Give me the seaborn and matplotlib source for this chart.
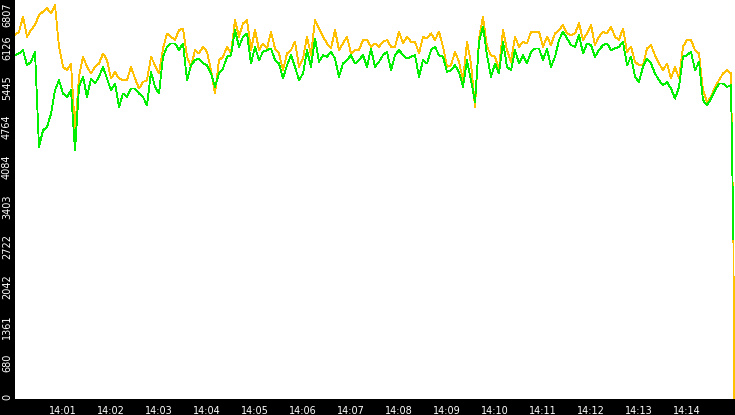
import numpy as np
import pandas as pd
import matplotlib
matplotlib.use("Agg")
import matplotlib.pyplot as plt
import matplotlib.dates as mdates
import matplotlib.transforms as mtransforms
import seaborn as sns

# =============================
# DATA (one sample every 5 s from 14:00:00)
# =============================
START = "2024-01-01 14:00:00"
STEP = "5s"

orange_vals = [
    6208, 6265, 6522, 6180, 6294, 6379, 6551, 6607, 6664, 6579, 6721, 6009, 5667, 5610, 5724, 4584,
    5496, 5838, 5667, 5553, 5667, 5724, 5895, 5781, 5467, 5581, 5467, 5439, 5439, 5667, 5467, 5296,
    5410, 5439, 5838, 5695, 5553, 5980, 6237, 6180, 6123, 6294, 6322, 5838, 5667, 5952, 5895, 6009,
    5923, 5610, 5211, 5781, 5838, 6009, 5895, 6465, 6180, 6408, 6465, 5952, 6294, 5952, 6066, 5980,
    6265, 5980, 5895, 5610, 5895, 5952, 6094, 5667, 5809, 6180, 5866, 6465, 6322, 6180, 6066, 5980,
    6294, 5952, 6066, 6180, 5895, 5952, 5952, 6123, 6123, 6009, 6066, 6009, 6094, 6123, 6009, 6009,
    6265, 6066, 6180, 6094, 6094, 5895, 6180, 6151, 6237, 6123, 6265, 6009, 5667, 5695, 5923, 5752,
    5439, 6094, 5724, 4983, 6151, 6522, 6009, 5866, 5838, 5638, 6294, 5952, 5752, 6180, 6009, 6094,
    6066, 6265, 6265, 6265, 6009, 6180, 6037, 6237, 6294, 6379, 6237, 6208, 6237, 6408, 6123, 6237,
    6379, 6037, 6180, 6265, 6237, 6351, 6180, 6123, 6322, 5923, 6009, 5752, 5695, 5695, 5980, 6037,
    5866, 5724, 5610, 5724, 5467, 5667, 5467, 6009, 6123, 6123, 5952, 5895, 5268, 5068, 5154, 5325,
    5439, 5553, 5610, 5553,
]
green_vals = [
    5866, 5895, 5952, 5695, 5752, 5923, 4299, 4584, 4641, 4869, 5268, 5439, 5211, 5154, 5268, 4242,
    5325, 5496, 5154, 5467, 5382, 5496, 5667, 5467, 5268, 5382, 4983, 5211, 5154, 5296, 5296, 5211,
    5154, 5011, 5581, 5325, 5211, 5838, 6009, 6066, 6066, 5952, 6066, 5439, 5695, 5781, 5809, 5724,
    5695, 5553, 5325, 5553, 5638, 5838, 5866, 6294, 6009, 6180, 6237, 5724, 6009, 5781, 5923, 5952,
    5980, 5781, 5724, 5467, 5695, 5866, 5667, 5439, 5553, 5952, 5667, 6151, 5752, 5866, 5838, 5923,
    5809, 5496, 5724, 5781, 5866, 5724, 5781, 5866, 5667, 5980, 5667, 5752, 5866, 5923, 5610, 5866,
    5952, 5866, 5809, 5838, 5866, 5496, 5781, 5724, 5952, 6009, 5866, 5838, 5581, 5610, 5695, 5581,
    5325, 5781, 5439, 5068, 6094, 6351, 5866, 5496, 5724, 5553, 6094, 5667, 5610, 5952, 5724, 5866,
    5724, 5923, 5980, 5980, 5781, 5980, 5667, 5838, 6123, 6265, 6151, 6037, 6009, 6208, 5895, 6066,
    6037, 5838, 5952, 6037, 6066, 5952, 5980, 6009, 6094, 5695, 5838, 5496, 5410, 5667, 5809, 5724,
    5553, 5439, 5353, 5410, 5296, 5125, 5325, 5838, 5866, 5923, 5610, 5752, 5097, 5011, 5125, 5268,
    5382, 5382, 5325, 5353,
]
# the last second of the window: both series fall away
tail_seconds_orange = [898, 899]
tail_orange = [2730, 0]
tail_seconds_green = [898]
tail_green = [2730]

Y_MAX = 6807
tick_minutes = list(range(1, 15))

ORANGE = "#FFC000"
GREEN = "#00EE00"

# =============================
# FRAMES
# =============================
t0 = pd.Timestamp(START)
times = list(pd.date_range(START, periods=len(orange_vals), freq=STEP))

df_orange = pd.DataFrame({
    "time": times + [t0 + pd.Timedelta(seconds=s) for s in tail_seconds_orange],
    "value": orange_vals + tail_orange,
})
df_green = pd.DataFrame({
    "time": times + [t0 + pd.Timedelta(seconds=s) for s in tail_seconds_green],
    "value": green_vals + tail_green,
})

# =============================
# PLOT
# =============================
sns.set_style("white")
plt.rcParams["font.family"] = ["DejaVu Sans"]

fig = plt.figure(figsize=(7.35, 4.15), dpi=100, facecolor="black")
ax = fig.add_axes([15 / 735, 16 / 415, 720 / 735, 399 / 415])
ax.set_facecolor("white")

sns.lineplot(data=df_orange, x="time", y="value", ax=ax, color=ORANGE,
             linewidth=0.6, estimator=None, legend=False, antialiased=False)
sns.lineplot(data=df_green, x="time", y="value", ax=ax, color=GREEN,
             linewidth=0.6, estimator=None, legend=False, antialiased=False)

ax.set_xlim(t0, t0 + pd.Timedelta(minutes=15))
ax.set_ylim(0, Y_MAX)
ax.set_xlabel("")
ax.set_ylabel("")

for sp in ax.spines.values():
    sp.set_visible(False)

# x axis
ax.set_xticks([t0 + pd.Timedelta(minutes=m) for m in tick_minutes])
ax.xaxis.set_major_formatter(mdates.DateFormatter("%H:%M"))
ax.tick_params(axis="x", colors="white", labelcolor="white", labelsize=7,
               length=3.8, width=0.8, pad=1.2, direction="out")

# y axis: ticks at tenths of the max, labels rotated and drawn by hand
yticks = np.linspace(0, Y_MAX, 11)
ax.set_yticks(yticks)
ax.set_yticklabels([])
ax.tick_params(axis="y", colors="white", length=2.6, width=0.8, direction="out")

ylab_trans = mtransforms.blended_transform_factory(ax.transAxes, ax.transData)
for v in yticks:
    dy = -2 if v == Y_MAX else 5
    off = mtransforms.ScaledTranslation(-3 / 100, dy / 100, fig.dpi_scale_trans)
    ax.text(0, v, str(int(v)), transform=ylab_trans + off, rotation=90,
            ha="right", va="top", color="white", fontsize=7)

plt.savefig("out.png", dpi=100, facecolor="black")
plt.close()
